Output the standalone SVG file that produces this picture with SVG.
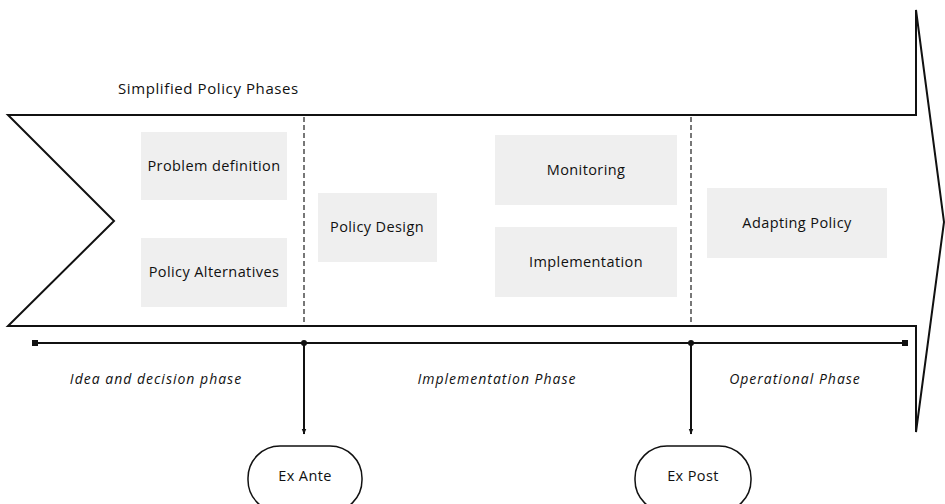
<svg xmlns="http://www.w3.org/2000/svg" width="945" height="504" viewBox="0 0 945 504">
<defs>
<style>
.box{fill:#efefef;}
.t{font-family:"Open Sans","Liberation Sans",sans-serif;font-size:14.5px;letter-spacing:0.4px;fill:#111;text-anchor:middle;}
.ph{font-family:"Open Sans","Liberation Sans",sans-serif;font-size:14px;font-style:italic;letter-spacing:1px;fill:#111;text-anchor:middle;}
.ln{stroke:#111;fill:none;}
.dash{stroke:#777;fill:none;stroke-width:2;stroke-dasharray:5,3;}
</style>
<marker id="ah" viewBox="0 0 10 10" refX="9" refY="5" markerWidth="6" markerHeight="6" orient="auto" markerUnits="userSpaceOnUse">
<path d="M0,1 L10,5 L0,9 z" fill="#111"/>
</marker>
</defs>
<rect width="945" height="504" fill="#fff"/>
<g id="arrow-shape">
<path class="ln" stroke-width="2" d="M8,115 L916,115 L916,10 L944,222 L916,432 L916,326 L8,326 L114,221 Z"/>
</g>
<text x="118" y="94" font-family="'Open Sans','Liberation Sans',sans-serif" font-size="15" letter-spacing="0.6" fill="#111">Simplified Policy Phases</text>
<g id="dividers">
<line class="dash" x1="304" y1="117" x2="304" y2="324"/>
<line class="dash" x1="691" y1="117" x2="691" y2="324"/>
</g>
<g id="problem-definition"><rect class="box" x="141" y="132" width="146" height="68"/><text class="t" x="214" y="171">Problem definition</text></g>
<g id="policy-alternatives"><rect class="box" x="141" y="238" width="146" height="69"/><text class="t" x="214" y="277">Policy Alternatives</text></g>
<g id="policy-design"><rect class="box" x="318" y="193" width="119" height="69"/><text class="t" x="377" y="232">Policy Design</text></g>
<g id="monitoring"><rect class="box" x="495" y="135" width="182" height="70"/><text class="t" x="586" y="175">Monitoring</text></g>
<g id="implementation"><rect class="box" x="495" y="227" width="182" height="70"/><text class="t" x="586" y="267">Implementation</text></g>
<g id="adapting-policy"><rect class="box" x="707" y="188" width="180" height="70"/><text class="t" x="797" y="228">Adapting Policy</text></g>
<g id="timeline">
<line class="ln" stroke-width="2" x1="35" y1="343" x2="905" y2="343"/>
<rect x="32" y="340" width="6" height="6" fill="#111"/>
<rect x="902" y="340" width="6" height="6" fill="#111"/>
<circle cx="304" cy="343" r="3" fill="#111"/>
<circle cx="691" cy="343" r="3" fill="#111"/>
</g>
<text class="ph" x="156" y="384">Idea and decision phase</text>
<text class="ph" x="497" y="384">Implementation Phase</text>
<text class="ph" x="795" y="384">Operational Phase</text>
<g id="connectors">
<line class="ln" stroke-width="2" x1="304" y1="343" x2="304" y2="434" marker-end="url(#ah)"/>
<line class="ln" stroke-width="2" x1="691" y1="343" x2="691" y2="434" marker-end="url(#ah)"/>
</g>
<g id="ex-ante"><rect class="ln" stroke-width="1.5" x="248" y="446" width="114" height="66" rx="32" ry="32"/><text class="t" x="305" y="481">Ex Ante</text></g>
<g id="ex-post"><rect class="ln" stroke-width="1.5" x="635" y="446" width="116" height="66" rx="32" ry="32"/><text class="t" x="693" y="481">Ex Post</text></g>
</svg>
